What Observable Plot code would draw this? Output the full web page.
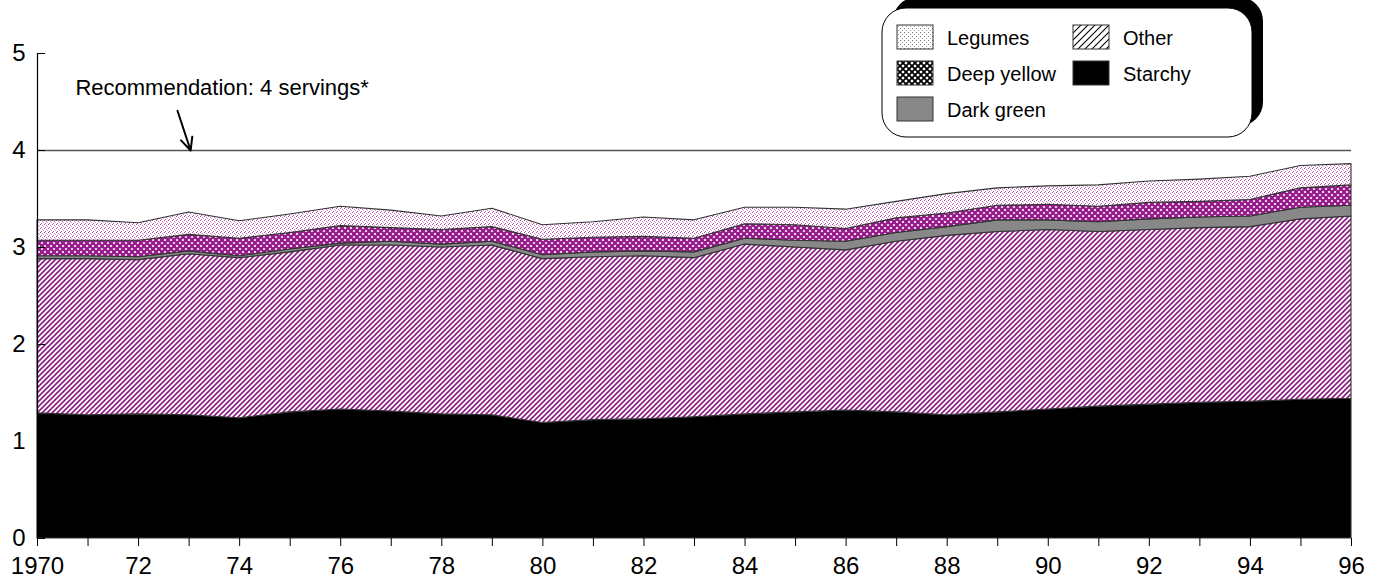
<!DOCTYPE html>
<html><head><meta charset="utf-8">
<script src="https://cdn.jsdelivr.net/npm/d3@7"></script>
<script src="https://cdn.jsdelivr.net/npm/@observablehq/plot@0.6"></script>
<style>
body{margin:0;background:#fff;font-family:"Liberation Sans",Arial,sans-serif;}
#wrap{position:relative;width:1381px;height:582px;overflow:hidden;}
#legend{position:absolute;left:0;top:0;pointer-events:none;}
</style></head><body>
<svg width="0" height="0" style="position:absolute">
<defs>
  <pattern id="pLegumes" width="4" height="4" patternUnits="userSpaceOnUse">
    <rect width="4" height="4" fill="#fff"/>
    <rect x="0" y="0" width="1" height="1" fill="#b04aa8"/>
    <rect x="2" y="1" width="1" height="1" fill="#c878c0"/>
    <rect x="1" y="3" width="1" height="1" fill="#b860b0"/>
    <rect x="3" y="2" width="1" height="1" fill="#dca8d6"/>
  </pattern>
  <pattern id="pDeepYellow" width="6" height="6" patternUnits="userSpaceOnUse">
    <rect width="6" height="6" fill="#fff"/>
    <path d="M0,0 L6,6 M6,0 L0,6" stroke="#96198a" stroke-width="2.3"/>
  </pattern>
  <pattern id="pOther" width="5" height="5" patternUnits="userSpaceOnUse">
    <rect width="5" height="5" fill="#fff"/>
    <path d="M0,5 L5,0 M-1,1 L1,-1 M4,6 L6,4" stroke="#8e2085" stroke-width="1.7"/>
  </pattern>
  <pattern id="lDots" width="4" height="4" patternUnits="userSpaceOnUse">
    <rect width="4" height="4" fill="#fff"/>
    <rect x="0" y="0" width="1" height="1" fill="#777"/>
    <rect x="2" y="2" width="1" height="1" fill="#999"/>
  </pattern>
  <pattern id="lCross" width="6" height="6" patternUnits="userSpaceOnUse">
    <rect width="6" height="6" fill="#fff"/>
    <path d="M0,0 L6,6 M6,0 L0,6" stroke="#000" stroke-width="1.8"/>
  </pattern>
  <pattern id="lDiag" width="7" height="7" patternUnits="userSpaceOnUse">
    <rect width="7" height="7" fill="#fff"/>
    <path d="M0,7 L7,0 M-1,1 L1,-1 M6,8 L8,6" stroke="#000" stroke-width="1.1"/>
  </pattern>
</defs></svg>
<div id="wrap"><div id="chart"></div><svg id="legend" width="1381" height="582"></svg></div>
<script>
const years = [1970,1971,1972,1973,1974,1975,1976,1977,1978,1979,1980,1981,1982,1983,1984,1985,1986,1987,1988,1989,1990,1991,1992,1993,1994,1995,1996];
const starchy = [1.29,1.27,1.28,1.27,1.24,1.30,1.33,1.31,1.28,1.27,1.19,1.22,1.23,1.25,1.28,1.30,1.32,1.30,1.27,1.30,1.33,1.36,1.38,1.40,1.41,1.43,1.44];
const other = [1.59,1.61,1.59,1.66,1.65,1.65,1.69,1.71,1.72,1.75,1.69,1.68,1.68,1.64,1.75,1.70,1.65,1.76,1.85,1.86,1.85,1.80,1.80,1.80,1.80,1.86,1.88];
const darkGreen = [0.03,0.03,0.03,0.03,0.02,0.03,0.02,0.04,0.03,0.04,0.04,0.05,0.05,0.06,0.06,0.07,0.09,0.09,0.09,0.12,0.10,0.10,0.11,0.11,0.11,0.12,0.11];
const deepYellow = [0.16,0.16,0.17,0.17,0.18,0.17,0.18,0.14,0.15,0.15,0.16,0.15,0.15,0.14,0.15,0.16,0.13,0.15,0.14,0.15,0.16,0.16,0.17,0.16,0.17,0.20,0.21];
const legumes = [0.21,0.21,0.18,0.23,0.18,0.19,0.20,0.18,0.14,0.19,0.15,0.16,0.20,0.19,0.17,0.18,0.20,0.17,0.20,0.18,0.19,0.22,0.22,0.23,0.24,0.23,0.22];

const series = ["Starchy","Other","Dark green","Deep yellow","Legumes"];
const seriesFills = ["#000","url(#pOther)","#888","url(#pDeepYellow)","url(#pLegumes)"];
const legendOrder = ["Legumes","Deep yellow","Dark green","Other","Starchy"];
const legendFills = ["url(#lDots)","url(#lCross)","#888","url(#lDiag)","#000"];

const xTickLabels = ["1970","","72","","74","","76","","78","","80","","82","","84","","86","","88","","90","","92","","94","","96"];
const yTicks = [0,1,2,3,4,5];
const yTickLabels = ["0","1","2","3","4","5"];
const recommendation = [4];
const noteText = ["Recommendation: 4 servings*"];
const noteX = [1970.75];
const noteY = [4.64];
const arrowFrom = [{x:1972.77, y:4.41}];
const arrowTo = [{x:1973.03, y:4.0}];

const seriesValues = [starchy, other, darkGreen, deepYellow, legumes];
const data = [];
series.forEach((s, i) => years.forEach((yr, j) => data.push({year: yr, group: s, value: seriesValues[i][j]})));
const notes = noteText.map((t, i) => ({text: t, x: noteX[i], y: noteY[i]}));
const arrows = arrowFrom.map((a, i) => ({x1: a.x, y1: a.y, x2: arrowTo[i].x, y2: arrowTo[i].y}));

const chart = Plot.plot({
  width: 1381, height: 582,
  marginLeft: 37, marginRight: 30, marginTop: 53, marginBottom: 44,
  style: {fontFamily: "Liberation Sans, Arial, sans-serif", background: "transparent", color: "#000"},
  x: {domain: [1970, 1996], label: null},
  y: {domain: [0, 5], label: null},
  color: {domain: series, range: seriesFills},
  marks: [
    Plot.areaY(data, {x: "year", y: "value", z: "group", fill: "group", stroke: "#333", strokeWidth: 1.1, curve: "linear"}),
    Plot.ruleY(recommendation, {stroke: "#555", strokeWidth: 1.6}),
    Plot.ruleX([1970], {stroke: "#000", strokeWidth: 1.2}),
    Plot.ruleY(yTicks, {stroke: "#000", insetRight: 1306}),
    Plot.axisY({ticks: yTicks, tickSize: 0, tickPadding: 12, fontSize: 24, label: null,
      tickFormat: d => yTickLabels[yTicks.indexOf(d)]}),
    Plot.axisX({ticks: years, tickSize: 8, tickPadding: 10, fontSize: 24, label: null,
      tickFormat: d => xTickLabels[years.indexOf(d)]}),
    Plot.text(notes, {x: "x", y: "y", text: "text", textAnchor: "start", fontSize: 22, fill: "#000"}),
    Plot.arrow(arrows, {x1: "x1", y1: "y1", x2: "x2", y2: "y2", stroke: "#000", strokeWidth: 2, headLength: 16, headAngle: 50})
  ]
});
document.getElementById("chart").appendChild(chart);

// legend
const lg = d3.select("#legend");
lg.append("rect").attr("x", 893).attr("y", -3).attr("width", 370).attr("height", 129).attr("rx", 24).attr("fill", "#000");
lg.append("rect").attr("x", 882).attr("y", 8).attr("width", 370).attr("height", 129).attr("rx", 24)
  .attr("fill", "#fff").attr("stroke", "#000").attr("stroke-width", 1);
legendOrder.forEach((name, i) => {
  const col = i < 3 ? 0 : 1;
  const row = i < 3 ? i : i - 3;
  const sx = col === 0 ? 897 : 1073;
  const sy = 25 + row * 36;
  lg.append("rect").attr("x", sx).attr("y", sy).attr("width", 36).attr("height", 24)
    .attr("fill", legendFills[i]).attr("stroke", "#333").attr("stroke-width", 1);
  lg.append("text").attr("x", sx + 50).attr("y", sy + 20).attr("font-size", 20)
    .attr("font-family", "Liberation Sans, Arial, sans-serif").attr("fill", "#000").text(name);
});
</script>
</body></html>
